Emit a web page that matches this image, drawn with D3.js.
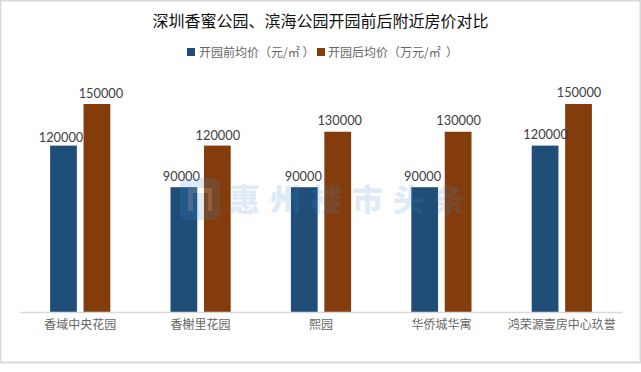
<!DOCTYPE html>
<html>
<head>
<meta charset="utf-8">
<script src="https://cdn.jsdelivr.net/npm/d3@7"></script>
<style>
  html, body { margin: 0; padding: 0; background: #fff; }
  text { font-family: "Noto Sans CJK SC", sans-serif; white-space: pre; }
</style>
</head>
<body>
<div id="chart"></div>
<script>
const categories = ["香域中央花园", "香榭里花园", "熙园", "华侨城华寓", "鸿荣源壹房中心玖誉"];
const seriesNames = ["开园前均价（元/㎡ ）", "开园后均价（万元/㎡  ）"];
const before = [120000, 90000, 90000, 90000, 120000];
const after = [150000, 120000, 130000, 130000, 150000];
const colors = ["#1f4e79", "#843c0c"];

// the value labels were dragged by hand in the original, so nudge them a bit
const labelNudgeX = [[-2.5, 4], [-2.5, 0.5], [-1, 2], [-2, 0.5], [0.5, 0.5]];
const labelNudgeY = [[-4, -6], [-6, -6], [-6, -7], [-6, -7], [-7, -7]];

const width = 641, height = 372;
const margin = { top: 104, right: 19, bottom: 60, left: 20 };

const svg = d3.select("#chart").append("svg")
    .attr("width", width)
    .attr("height", height)
    .style("display", "block");

// outer frame of the picture
svg.append("rect")
    .attr("x", 0.5).attr("y", 0.5)
    .attr("width", width - 1).attr("height", 362)
    .attr("fill", "#fff")
    .attr("stroke", "#d9d9d9")
    .attr("stroke-width", 2);

const x = d3.scaleBand()
    .domain(categories)
    .range([margin.left, width - margin.right]);

const inner = d3.scaleBand()
    .domain([0, 1])
    .range([x.bandwidth() * 0.25, x.bandwidth() * 0.75])
    .paddingInner(0.2);

const y = d3.scaleLinear()
    .domain([0, 150000])
    .range([height - margin.bottom, margin.top]);

svg.append("text")
    .attr("x", 320.5).attr("y", 27)
    .attr("text-anchor", "middle")
    .attr("font-size", 16)
    .attr("fill", "#111")
    .text("深圳香蜜公园、滨海公园开园前后附近房价对比");

// legend
const legendX = [187, 317];
const legendTextX = [199, 328];
seriesNames.forEach((name, i) => {
    svg.append("rect")
        .attr("x", legendX[i]).attr("y", 48)
        .attr("width", 8).attr("height", 8)
        .attr("fill", colors[i]);
    svg.append("text")
        .attr("x", legendTextX[i]).attr("y", 56.5)
        .attr("font-size", 12)
        .attr("fill", "#666")
        .text(name);
});

const groups = svg.selectAll("g.group")
    .data(categories.map((c, i) => ({ c, idx: i, values: [before[i], after[i]] })))
    .enter().append("g")
    .attr("class", "group")
    .attr("transform", d => `translate(${x(d.c)},0)`);

groups.selectAll("rect")
    .data(d => d.values)
    .enter().append("rect")
    .attr("x", (d, i) => inner(i))
    .attr("y", d => y(d))
    .attr("width", inner.bandwidth())
    .attr("height", d => y(0) - y(d))
    .attr("fill", (d, i) => colors[i]);

groups.selectAll("text")
    .data(d => d.values.map((v, i) => ({ v, dx: labelNudgeX[d.idx][i], dy: labelNudgeY[d.idx][i] })))
    .enter().append("text")
    .attr("x", (d, i) => inner(i) + inner.bandwidth() / 2 + d.dx)
    .attr("y", d => y(d.v) + d.dy)
    .attr("text-anchor", "middle")
    .style("font-family", "Lato, sans-serif")
    .attr("font-size", 12.8)
    .attr("fill", "#404040")
    .text(d => d.v);

// axis line and category labels
const axis = svg.append("g")
    .attr("transform", `translate(0,${y(0)})`)
    .call(d3.axisBottom(x).tickSize(0).tickPadding(8));
axis.select(".domain").attr("stroke", "#d9d9d9").attr("stroke-width", 1.5);
axis.selectAll("text")
    .attr("font-size", 12)
    .attr("fill", "#666")
    .style("font-family", '"Noto Sans CJK SC", sans-serif');

// watermark sits over the bars
const mark = svg.append("g").attr("opacity", 0.17);
mark.append("rect")
    .attr("x", 180).attr("y", 178)
    .attr("width", 40).attr("height", 42).attr("rx", 8)
    .attr("fill", "#3f8fd0");
mark.append("rect")
    .attr("x", 188).attr("y", 188)
    .attr("width", 24).attr("height", 23)
    .attr("fill", "#fff");
mark.append("rect")
    .attr("x", 193).attr("y", 193)
    .attr("width", 15).attr("height", 18)
    .attr("fill", "#3f8fd0");
mark.append("text")
    .attr("x", 229).attr("y", 211)
    .attr("font-size", 31)
    .attr("font-weight", 900)
    .attr("letter-spacing", 10)
    .attr("fill", "#3f8fd0")
    .text("惠州楼市头条");
</script>
</body>
</html>
